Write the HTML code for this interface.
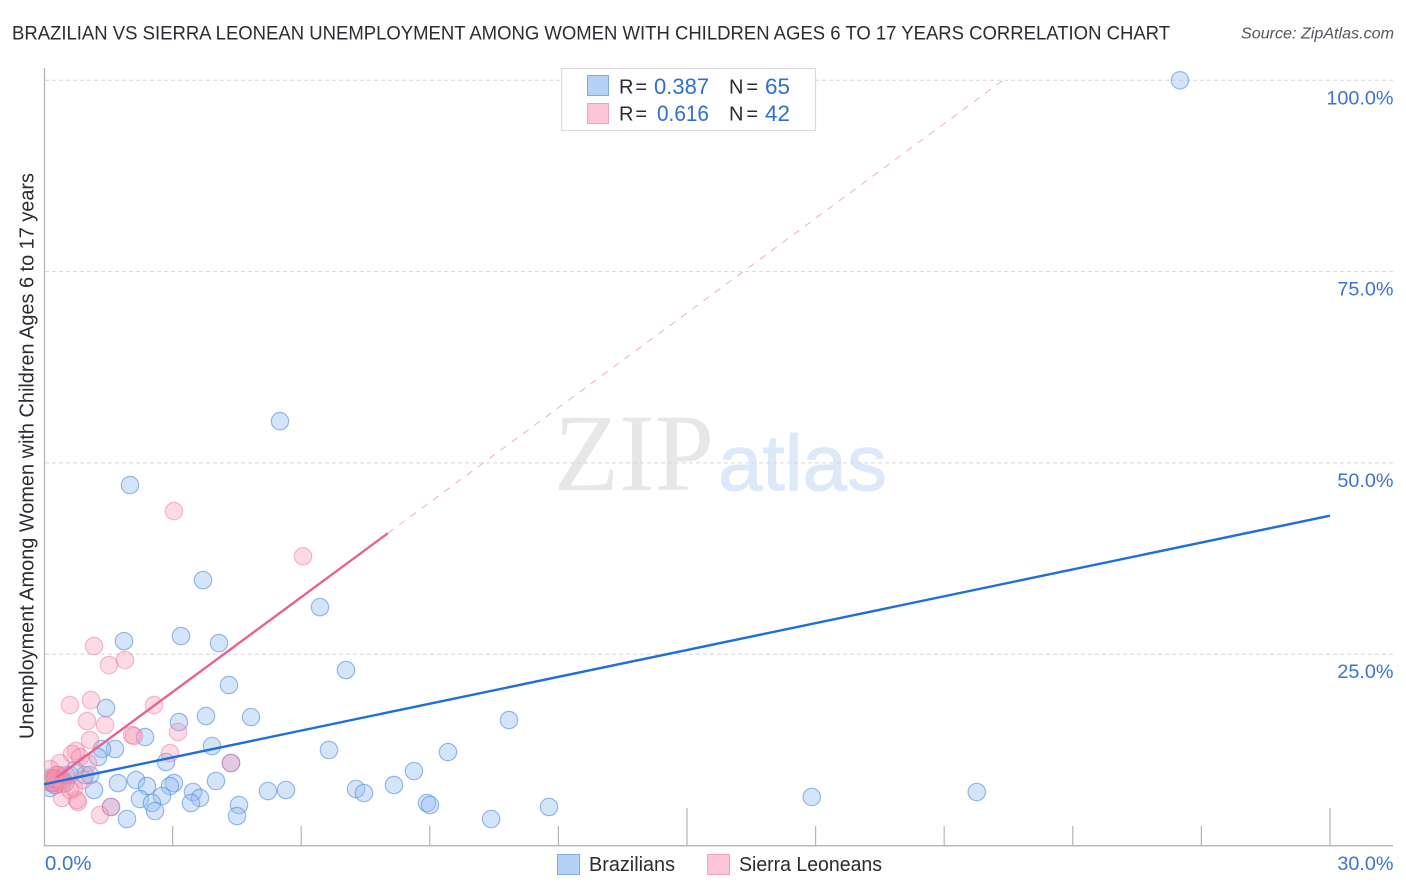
<!DOCTYPE html>
<html>
<head>
<meta charset="utf-8">
<title>Brazilian vs Sierra Leonean Unemployment Correlation Chart</title>
<style>
html,body{margin:0;padding:0;background:#fff;width:1406px;height:892px;overflow:hidden}
svg{display:block;font-family:"Liberation Sans",sans-serif}
</style>
</head>
<body>
<svg id="chart" width="1406" height="892" viewBox="0 0 1406 892" xmlns="http://www.w3.org/2000/svg">
  <defs>
    <clipPath id="plot-clip"><rect x="45" y="60" width="1350" height="786"/></clipPath>
  </defs>
  <rect width="1406" height="892" fill="#ffffff"/>
  <text x="12" y="39.5" font-size="19.5" fill="#2b2b33" textLength="1158" lengthAdjust="spacingAndGlyphs">BRAZILIAN VS SIERRA LEONEAN UNEMPLOYMENT AMONG WOMEN WITH CHILDREN AGES 6 TO 17 YEARS CORRELATION CHART</text>
  <text x="1241" y="38.5" font-size="15.5" font-style="italic" fill="#555560" textLength="153" lengthAdjust="spacingAndGlyphs">Source: ZipAtlas.com</text>
  <text x="554" y="490" font-family="'Liberation Serif',serif" font-size="110" fill="#e7e7e7" textLength="160" lengthAdjust="spacingAndGlyphs">ZIP</text>
  <text x="718" y="490" font-size="79" fill="#dde9f8" stroke="#dde9f8" stroke-width="1" textLength="169" lengthAdjust="spacingAndGlyphs">atlas</text>
  <g id="grid"></g>
  <g id="axes"></g>
  <g id="blue-points" clip-path="url(#plot-clip)"></g>
  <g id="pink-points" clip-path="url(#plot-clip)"></g>
  <g id="trends"></g>
  <text transform="translate(33.5,739) rotate(-90)" font-size="20" fill="#2b2b33" textLength="566" lengthAdjust="spacingAndGlyphs">Unemployment Among Women with Children Ages 6 to 17 years</text>
  <g>
    <rect x="561.5" y="68.5" width="254" height="62" fill="#ffffff" stroke="#dcdcdc" stroke-width="1.2"/>
    <rect x="587.5" y="75.5" width="21" height="20" fill="#b5d2f6" stroke="#7fabe3" stroke-width="1"/>
    <rect x="587.5" y="103.5" width="21" height="20" fill="#fcc5d6" stroke="#f3a3bc" stroke-width="1"/>
    <text x="619" y="93.5" font-size="20" fill="#2b2b33" textLength="28" lengthAdjust="spacing">R =</text>
    <text x="654" y="94" font-size="22" fill="#2f6fd0">0.387</text>
    <text x="729" y="93.5" font-size="20" fill="#2b2b33" textLength="29" lengthAdjust="spacing">N =</text>
    <text x="765" y="94" font-size="22" fill="#2f6fd0" textLength="25" lengthAdjust="spacingAndGlyphs">65</text>
    <text x="619" y="120.5" font-size="20" fill="#2b2b33" textLength="28" lengthAdjust="spacing">R =</text>
    <text x="657" y="121" font-size="22" fill="#2f6fd0" textLength="52" lengthAdjust="spacingAndGlyphs">0.616</text>
    <text x="729" y="120.5" font-size="20" fill="#2b2b33" textLength="29" lengthAdjust="spacing">N =</text>
    <text x="765" y="121" font-size="22" fill="#2f6fd0" textLength="25" lengthAdjust="spacingAndGlyphs">42</text>
  </g>
  <g>
    <rect x="557.5" y="854.5" width="22" height="20" fill="#b5d2f6" stroke="#7fabe3" stroke-width="1"/>
    <text x="589" y="871" font-size="20" fill="#2b2b33" textLength="86" lengthAdjust="spacingAndGlyphs">Brazilians</text>
    <rect x="707.5" y="854.5" width="22" height="20" fill="#fcc5d6" stroke="#f3a3bc" stroke-width="1"/>
    <text x="739" y="871" font-size="20" fill="#2b2b33" textLength="143" lengthAdjust="spacingAndGlyphs">Sierra Leoneans</text>
  </g>
</svg>
<script>
const xTickValues = [0, 3, 6, 9, 12, 15, 18, 21, 24, 27, 30];
const xMajorTicks = [15, 30];
const xEndLabels = ["0.0%", "30.0%"];
const yTickValues = [25, 50, 75, 100];
const yTickLabels = ["25.0%", "50.0%", "75.0%", "100.0%"];

const brazilianX = [26.5,5.505,2.006,3.709,6.438,3.196,1.866,4.082,7.045,4.315,1.446,3.779,4.829,3.149,10.847,2.356,1.656,1.353,3.919,6.648,9.424,1.26,2.846,8.631,4.362,2.146,1.726,4.012,2.403,3.032,2.939,8.164,7.278,7.464,5.225,5.645,3.476,21.76,17.91,2.239,2.753,3.639,3.429,2.519,4.549,8.934,9.004,11.78,2.589,4.502,1.936,10.43,1.166,1.563,0.956,0.606,0.373,0.257,0.14,0.187,0.49,0.723,1.073,0.093,0.327];
const brazilianY = [100,55.45,47.1,34.68,31.15,27.37,26.71,26.45,22.93,20.97,17.96,16.92,16.79,16.13,16.39,14.17,12.61,12.61,13,12.48,12.21,11.56,10.91,9.73,10.78,8.56,8.16,8.43,7.77,8.16,7.77,7.9,7.38,6.86,7.12,7.25,6.99,6.99,6.34,6.07,6.47,6.21,5.55,5.55,5.29,5.55,5.29,5.03,4.51,3.85,3.46,3.46,7.25,5.03,9.21,9.21,8.56,7.9,7.51,8.16,8.16,9.86,9.21,8.56,9.21];

const sierraX = [3.032,6.042,1.166,1.889,1.516,1.096,0.606,2.566,1.003,1.423,3.126,2.053,2.099,1.073,2.939,0.746,0.653,0.373,4.362,1.563,1.306,0.793,0.77,0.42,0.7,0.84,0.91,1.026,0.14,0.21,0.09,0.28,0.37,0.33,0.44,0.19,0.26,0.09,0.26,0.42,0.51,0.61];
const sierraY = [43.7,37.8,26.06,24.23,23.58,19,18.35,18.35,16.26,15.74,14.83,14.43,14.3,13.78,12.08,12.34,11.95,10.78,10.78,5.03,3.98,5.68,5.94,6.2,7.51,11.56,8.56,10.78,9.99,8.82,8.3,9.21,8.82,8.3,8.56,8.3,7.9,8.82,8.69,8.04,9.21,7.25];

const brazilianTrendX = [0, 30];
const brazilianTrendY = [8.0, 43.1];
const sierraTrendSolidX = [0.3, 8.02];
const sierraTrendSolidY = [8.9, 40.8];
const sierraTrendDashX = [8.02, 22.37];
const sierraTrendDashY = [40.8, 100];

const SVG_NS = "http://www.w3.org/2000/svg";
const xScale = v => 44 + v * (1330 - 44) / 30;
const yScale = v => 845.5 - v * 7.652;

function make(tag, parentId, attrs) {
  const el = document.createElementNS(SVG_NS, tag);
  for (const k in attrs) el.setAttribute(k, attrs[k]);
  document.getElementById(parentId).appendChild(el);
  return el;
}

// Gridlines and y labels
yTickValues.forEach((v, i) => {
  const line = make("line", "grid", {x1: 45, x2: 1393, y1: yScale(v), y2: yScale(v), stroke: "#d6d6d6", "stroke-width": 1, "stroke-dasharray": "4 3"});
  
  
  const label = make("text", "axes", {x: 1393.5, y: yScale(v) + 24, "text-anchor": "end", "font-size": 19.8, fill: "#3a74d2"});
  label.textContent = yTickLabels[i];
  
  
});

// Axis lines
const yAxis = make("line", "axes", {x1: 44.5, x2: 44.5, y1: 68, y2: 846, stroke: "#b4b4b4", "stroke-width": 1.3});


const xAxis = make("line", "axes", {x1: 44, x2: 1393, y1: 845.7, y2: 845.7, stroke: "#b4b4b4", "stroke-width": 1.3});



// X ticks
xTickValues.slice(1).forEach(v => {
  const top = xMajorTicks.includes(v) ? 808 : 826;
  const tick = make("line", "axes", {x1: xScale(v), x2: xScale(v), y1: top, y2: 846, stroke: "#b4b4b4", "stroke-width": 1.2});
  
  
});

const xStart = make("text", "axes", {x: 45, y: 870, "font-size": 20.4, fill: "#3a74d2"});
xStart.textContent = xEndLabels[0];


const xEnd = make("text", "axes", {x: 1393.5, y: 870, "text-anchor": "end", "font-size": 19.8, fill: "#3a74d2"});
xEnd.textContent = xEndLabels[1];



// Points
brazilianX.forEach((v, i) => {
  const dot = make("circle", "blue-points", {cx: xScale(v), cy: yScale(brazilianY[i]), r: 8.7, fill: "rgba(150,190,240,0.4)", stroke: "rgba(70,135,220,0.55)", "stroke-width": 1.2});
  
  
});
sierraX.forEach((v, i) => {
  const dot = make("circle", "pink-points", {cx: xScale(v), cy: yScale(sierraY[i]), r: 8.7, fill: "rgba(245,150,180,0.34)", stroke: "rgba(235,110,150,0.45)", "stroke-width": 1.2});
  
  
});

// Trend lines
const dashTrend = make("line", "trends", {x1: xScale(sierraTrendDashX[0]), y1: yScale(sierraTrendDashY[0]), x2: xScale(sierraTrendDashX[1]), y2: yScale(sierraTrendDashY[1]), stroke: "#f0aec2", "stroke-width": 1, "stroke-dasharray": "7 7"});


const pinkTrend = make("line", "trends", {x1: xScale(sierraTrendSolidX[0]), y1: yScale(sierraTrendSolidY[0]), x2: xScale(sierraTrendSolidX[1]), y2: yScale(sierraTrendSolidY[1]), stroke: "#e8628f", "stroke-width": 2.4});


const blueTrend = make("line", "trends", {x1: xScale(brazilianTrendX[0]), y1: yScale(brazilianTrendY[0]), x2: xScale(brazilianTrendX[1]), y2: yScale(brazilianTrendY[1]), stroke: "#1f6fd8", "stroke-width": 2.4});


</script>
</body>
</html>
